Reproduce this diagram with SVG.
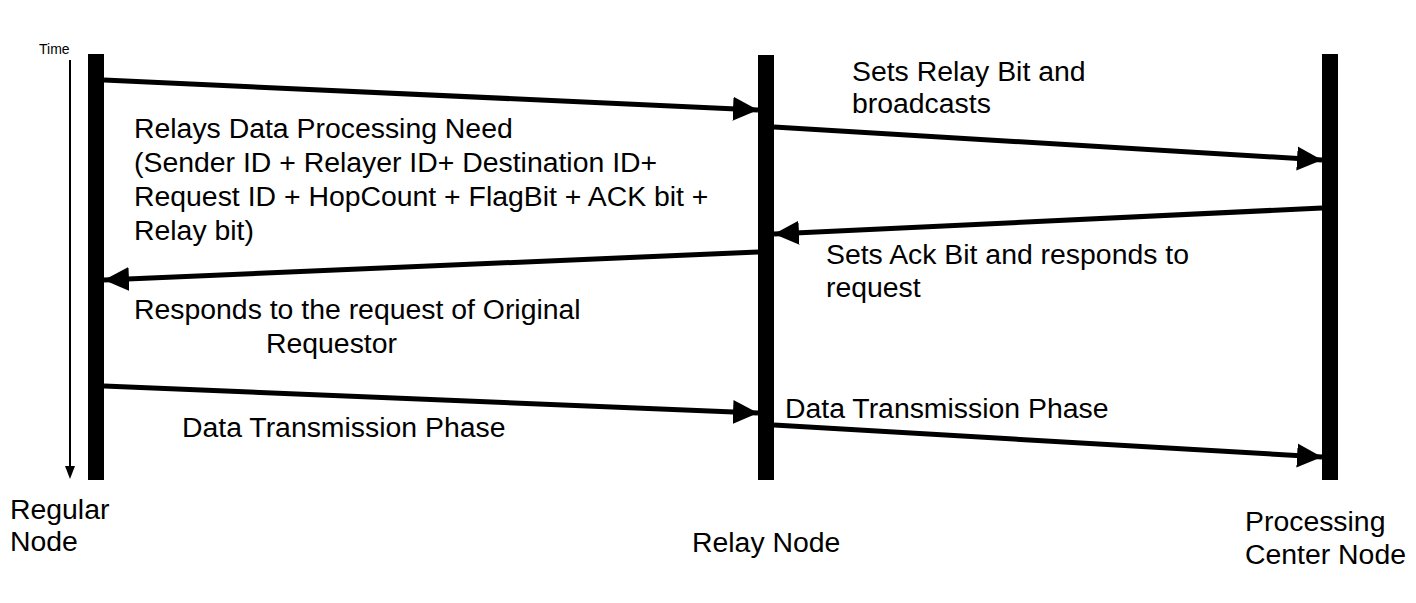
<svg xmlns="http://www.w3.org/2000/svg" width="1416" height="603" viewBox="0 0 1416 603">
<style>
text{font-family:"Liberation Sans",Arial,sans-serif;font-size:28.4px;fill:#000}
.small{font-size:14px}
.bar{fill:#000}
.msg{stroke:#000;stroke-width:5;fill:none}
</style>
<defs>
<marker id="ah" markerUnits="userSpaceOnUse" markerWidth="26" markerHeight="26" viewBox="0 0 26 26" refX="25" refY="13" orient="auto">
<path d="M0,1 L25,13 L0,25 Z" fill="#000"/>
</marker>
</defs>
<rect width="1416" height="603" fill="#fff"/>
<g id="time">
<line x1="70" y1="60" x2="70" y2="468" stroke="#000" stroke-width="2"/>
<path d="M65,466 L75,466 L70,479 Z" fill="#000"/>
<text class="small" x="39" y="54">Time</text>
</g>
<g id="regular-node">
<rect class="bar" x="88" y="54" width="16" height="426"/>
<text x="10" y="519">Regular</text>
<text x="10" y="551">Node</text>
</g>
<g id="relay-node">
<rect class="bar" x="758" y="55" width="16" height="425"/>
<text x="692" y="552">Relay Node</text>
</g>
<g id="processing-center-node">
<rect class="bar" x="1322" y="54" width="16" height="426"/>
<text x="1245" y="531">Processing</text>
<text x="1245" y="564">Center Node</text>
</g>
<g id="connectors">
<line class="msg" x1="104" y1="80" x2="758" y2="110" marker-end="url(#ah)"/>
<line class="msg" x1="774" y1="127" x2="1322" y2="160" marker-end="url(#ah)"/>
<line class="msg" x1="1322" y1="208" x2="774" y2="234" marker-end="url(#ah)"/>
<line class="msg" x1="758" y1="252" x2="104" y2="280" marker-end="url(#ah)"/>
<line class="msg" x1="104" y1="386" x2="758" y2="413" marker-end="url(#ah)"/>
<line class="msg" x1="774" y1="425" x2="1322" y2="457" marker-end="url(#ah)"/>
</g>
<g id="labels">
<text x="134" y="138">Relays Data Processing Need</text>
<text x="134" y="172">(Sender ID + Relayer ID+ Destination ID+</text>
<text x="134" y="206">Request ID + HopCount + FlagBit + ACK bit +</text>
<text x="134" y="240">Relay bit)</text>
<text x="852" y="81">Sets Relay Bit and</text>
<text x="852" y="113">broadcasts</text>
<text x="826" y="264">Sets Ack Bit and responds to</text>
<text x="826" y="297">request</text>
<text x="134" y="319">Responds to the request of Original</text>
<text x="266" y="353">Requestor</text>
<text x="182" y="437">Data Transmission Phase</text>
<text x="785" y="418">Data Transmission Phase</text>
</g>
</svg>
